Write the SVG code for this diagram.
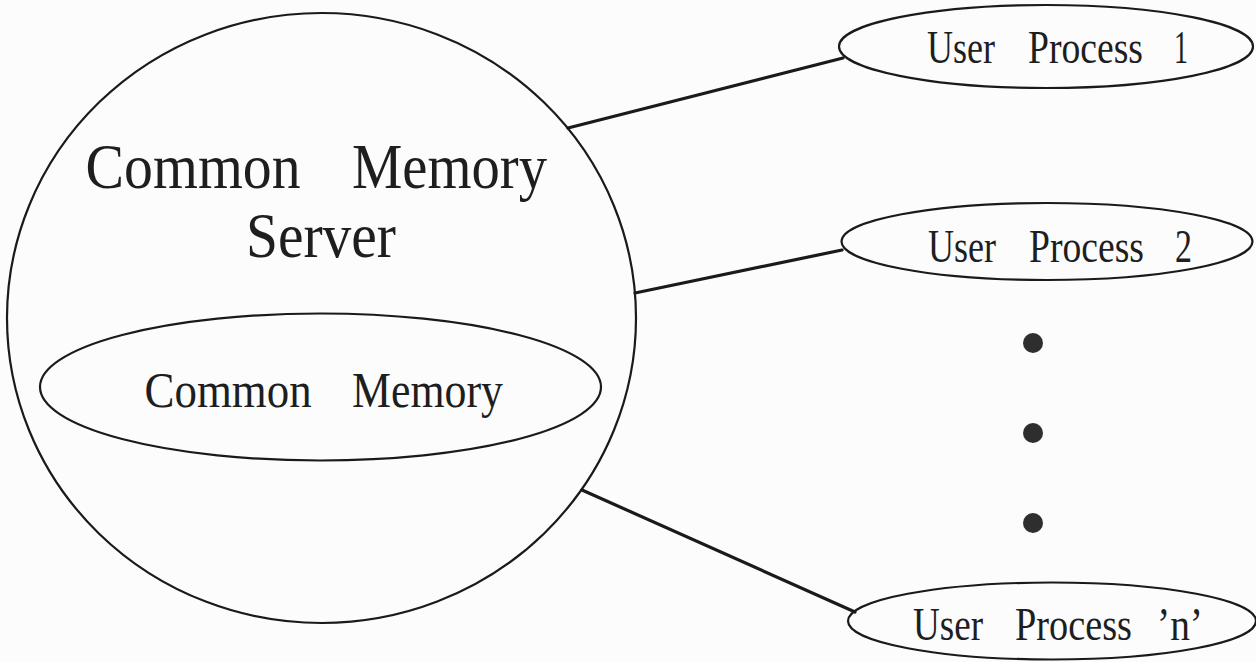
<svg xmlns="http://www.w3.org/2000/svg" width="1256" height="662" viewBox="0 0 1256 662">
  <style>
    .outline { fill: none; stroke: #1a1a1a; stroke-width: 2.2; }
    .link { fill: none; stroke: #1a1a1a; stroke-width: 3.2; stroke-linecap: round; }
    .label { font-family: "Liberation Serif", "Times New Roman", serif; fill: #1e1e1e; }
    .big { font-size: 64px; }
    .mid { font-size: 50px; }
    .small { font-size: 47px; }
    .dot { fill: #2e2e2e; }
  </style>
  <rect width="1256" height="662" fill="#fbfcfb"/>

  <!-- connectors from the server to each user process -->
  <g id="connectors">
    <line class="link" x1="568" y1="128" x2="843" y2="58"/>
    <line class="link" x1="635" y1="293" x2="842" y2="250"/>
    <line class="link" x1="582" y1="490" x2="855" y2="612"/>
  </g>

  <!-- server with its shared memory region -->
  <g id="server">
    <ellipse class="outline" cx="321.5" cy="318" rx="314.5" ry="305"/>
    <text class="label big" x="85.6" y="188" textLength="215" lengthAdjust="spacingAndGlyphs">Common</text>
    <text class="label big" x="352" y="188" textLength="195" lengthAdjust="spacingAndGlyphs">Memory</text>
    <text class="label big" x="246" y="257" textLength="150" lengthAdjust="spacingAndGlyphs">Server</text>
  </g>

  <g id="common-memory">
    <ellipse class="outline" cx="320.5" cy="387" rx="280.5" ry="73.5"/>
    <text class="label mid" x="144.6" y="407" textLength="167" lengthAdjust="spacingAndGlyphs">Common</text>
    <text class="label mid" x="352" y="407" textLength="151" lengthAdjust="spacingAndGlyphs">Memory</text>
  </g>

  <g id="user-process-1">
    <ellipse class="outline" cx="1046" cy="46.5" rx="207" ry="41.5"/>
    <text class="label small" x="927" y="63" textLength="68" lengthAdjust="spacingAndGlyphs">User</text>
    <text class="label small" x="1028" y="63" textLength="115" lengthAdjust="spacingAndGlyphs">Process</text>
    <text class="label small" x="1174" y="63" textLength="14" lengthAdjust="spacingAndGlyphs">1</text>
  </g>

  <g id="user-process-2">
    <ellipse class="outline" cx="1047" cy="241.5" rx="205.5" ry="38.5"/>
    <text class="label small" x="928" y="262" textLength="68" lengthAdjust="spacingAndGlyphs">User</text>
    <text class="label small" x="1029" y="262" textLength="115" lengthAdjust="spacingAndGlyphs">Process</text>
    <text class="label small" x="1175" y="262" textLength="17" lengthAdjust="spacingAndGlyphs">2</text>
  </g>

  <!-- ellipsis between process 2 and process n -->
  <g id="ellipsis">
    <circle class="dot" cx="1033" cy="343" r="10"/>
    <circle class="dot" cx="1033" cy="433" r="10"/>
    <circle class="dot" cx="1033" cy="523" r="10"/>
  </g>

  <g id="user-process-n">
    <ellipse class="outline" cx="1052" cy="621" rx="204" ry="38.5"/>
    <text class="label small" x="913" y="640" textLength="70" lengthAdjust="spacingAndGlyphs">User</text>
    <text class="label small" x="1015" y="640" textLength="117" lengthAdjust="spacingAndGlyphs">Process</text>
    <text class="label small" x="1157" y="640" textLength="46" lengthAdjust="spacingAndGlyphs">’n’</text>
  </g>
</svg>
